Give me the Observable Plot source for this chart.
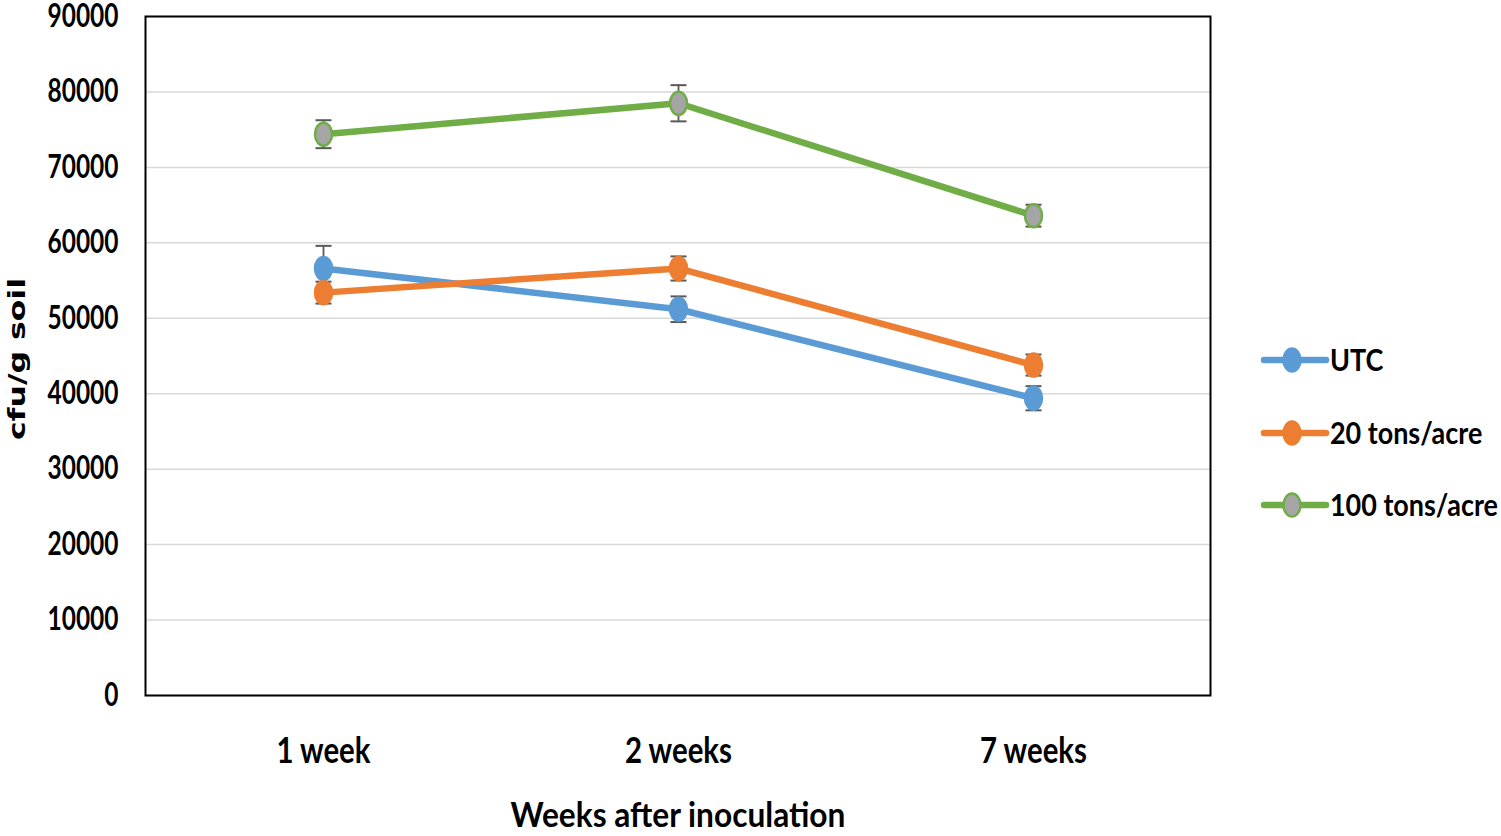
<!DOCTYPE html>
<html>
<head>
<meta charset="utf-8">
<script src="https://cdn.jsdelivr.net/npm/d3@7"></script>
<script src="https://cdn.jsdelivr.net/npm/@observablehq/plot@0.6"></script>
<style>
  body { margin: 0; background: #fff; }
  #wrap { position: relative; width: 1501px; height: 836px; overflow: hidden; }
  #overlay { position: absolute; left: 0; top: 0; }
</style>
</head>
<body>
<div id="wrap">
  <div id="chart"></div>
  <svg id="overlay" width="1501" height="836"></svg>
</div>
<script>
// ---- data ----
const weeks = ["1 week", "2 weeks", "7 weeks"];
const seriesNames = ["UTC", "20 tons/acre", "100 tons/acre"];
const utcValues = [56600, 51200, 39400];
const utcErrors = [3000, 1700, 1600];
const t20Values = [53400, 56600, 43800];
const t20Errors = [1450, 1600, 1400];
const t100Values = [74400, 78500, 63600];
const t100Errors = [1850, 2400, 1450];
const yTicks = [0, 10000, 20000, 30000, 40000, 50000, 60000, 70000, 80000, 90000];
const xTitle = "Weeks after inoculation";
const yTitle = "cfu/g soil";

// ---- styles ----
const lineColors = ["#5b9bd5", "#ed7d31", "#70ad47"];
const markerFills = ["#5b9bd5", "#ed7d31", "#a5a5a5"];
const errColor = "#595959";
const FONT = "Lato, 'Open Sans', sans-serif";

const valueSets = [utcValues, t20Values, t100Values];
const errorSets = [utcErrors, t20Errors, t100Errors];
const series = seriesNames.map((name, s) => ({
  name,
  rows: weeks.map((w, i) => ({
    week: w, value: valueSets[s][i], err: errorSets[s][i],
    lo: valueSets[s][i] - errorSets[s][i], hi: valueSets[s][i] + errorSets[s][i]
  }))
}));

const RX = 8.5, RY = 11.5, K = 0.5523;
const ellipse = {
  draw(ctx) {
    ctx.moveTo(RX, 0);
    ctx.bezierCurveTo(RX, RY * K, RX * K, RY, 0, RY);
    ctx.bezierCurveTo(-RX * K, RY, -RX, RY * K, -RX, 0);
    ctx.bezierCurveTo(-RX, -RY * K, -RX * K, -RY, 0, -RY);
    ctx.bezierCurveTo(RX * K, -RY, RX, -RY * K, RX, 0);
    ctx.closePath();
  }
};
const cap = { draw(ctx) { ctx.moveTo(-8, 0); ctx.lineTo(8, 0); } };

const marks = [
  Plot.gridY(yTicks, { stroke: "#d9d9d9", strokeOpacity: 1, strokeWidth: 1.5 }),
  Plot.axisY(yTicks, { tickSize: 0, tickPadding: 27, tickFormat: d => String(d), fontSize: 32, fontWeight: "bold", fill: "#000", label: null }),
  Plot.axisX({ tickSize: 0, tickPadding: 42, fontSize: 36, fontWeight: "bold", fill: "#000", label: null })
];
series.forEach((s, k) => {
  marks.push(Plot.line(s.rows, { x: "week", y: "value", stroke: lineColors[k], strokeWidth: 6.5, strokeLinecap: "round", strokeLinejoin: "round" }));
});
series.forEach((s, k) => {
  marks.push(Plot.ruleX(s.rows, { x: "week", y1: "lo", y2: "hi", stroke: errColor, strokeWidth: 1.8 }));
  marks.push(Plot.dot(s.rows, { x: "week", y: "lo", symbol: cap, stroke: errColor, strokeWidth: 2, fill: "none" }));
  marks.push(Plot.dot(s.rows, { x: "week", y: "hi", symbol: cap, stroke: errColor, strokeWidth: 2, fill: "none" }));
});
series.forEach((s, k) => {
  marks.push(Plot.dot(s.rows, { x: "week", y: "value", symbol: ellipse, fill: markerFills[k], stroke: lineColors[k], strokeWidth: 2.5 }));
});
marks.push(Plot.frame({ stroke: "#000", strokeWidth: 2 }));

const chart = Plot.plot({
  width: 1501,
  height: 836,
  marginLeft: 145,
  marginRight: 291,
  marginTop: 16,
  marginBottom: 141,
  style: { fontFamily: FONT, background: "#fff", color: "#000" },
  x: { type: "point", domain: weeks, padding: 0.5 },
  y: { domain: [0, 90000], ticks: yTicks },
  marks
});
document.getElementById("chart").appendChild(chart);

// horizontal condensing so text widths match the reference's narrow face
function condense(nodes, sampleText, targetWidth) {
  const sample = nodes.find(n => n.textContent === sampleText) || nodes[0];
  const w = sample.getComputedTextLength();
  const f = targetWidth / w;
  nodes.forEach(n => {
    const t = n.getAttribute("transform") || "";
    n.setAttribute("transform", (t + ` scale(${f},1)`).trim());
  });
}
const svg = d3.select(chart);
condense(svg.selectAll('g[aria-label="y-axis tick label"] text').nodes(), "90000", 71);
condense(svg.selectAll('g[aria-label="x-axis tick label"] text').nodes(), "2 weeks", 107);

// ---- overlay: axis titles + legend ----
const ov = d3.select("#overlay");
const xt = ov.append("text").attr("transform", "translate(678,827)").attr("text-anchor", "middle")
  .attr("font-family", FONT).attr("font-weight", "bold").attr("font-size", 34).attr("fill", "#000").text(xTitle);
condense([xt.node()], xTitle, 335);

const yt = ov.append("text").attr("transform", "translate(25,359) rotate(-90)").attr("text-anchor", "middle")
  .attr("font-family", "'DejaVu Sans', Verdana, sans-serif").attr("font-weight", "bold").attr("font-size", 23).attr("fill", "#000").text(yTitle);
condense([yt.node()], yTitle, 162);

const rowY = [360, 433, 505];
const legendTexts = [];
seriesNames.forEach((name, k) => {
  const g = ov.append("g").attr("transform", `translate(0,${rowY[k]})`);
  g.append("line").attr("x1", 1264).attr("x2", 1326).attr("y1", 0).attr("y2", 0)
    .attr("stroke", lineColors[k]).attr("stroke-width", 6.5).attr("stroke-linecap", "round");
  g.append("ellipse").attr("cx", 1292).attr("cy", 0).attr("rx", RX).attr("ry", RY)
    .attr("fill", markerFills[k]).attr("stroke", lineColors[k]).attr("stroke-width", 2.5);
  const t = g.append("text").attr("transform", "translate(1330,10.5)").text(name)
    .attr("font-family", FONT).attr("font-weight", "bold").attr("font-size", 30).attr("fill", "#000");
  legendTexts.push(t.node());
});
condense(legendTexts, "100 tons/acre", 168);
</script>
</body>
</html>
